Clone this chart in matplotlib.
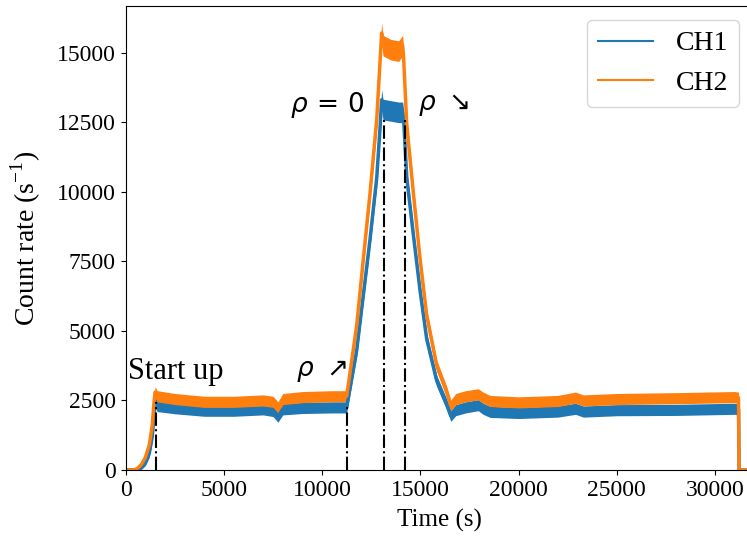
import numpy as np
import matplotlib.pyplot as plt

plt.rcParams['font.family'] = ['Liberation Serif', 'DejaVu Serif']

# tempo (s) e taxas de contagem (centro da banda de ruido)
time = [0, 400, 600, 800, 1000, 1200, 1350, 1450, 1500, 1600, 2500, 4000, 5500,
        7000, 7500, 7750, 8000, 9000, 10500, 11250, 11760, 12100, 12440, 12780,
        12950, 13030, 13100, 13500, 13900, 14100, 14150, 14310, 14645, 14985,
        15325, 15835, 16345, 16550, 16800, 17300, 17950, 18200, 18550, 20000,
        22000, 22900, 23300, 25000, 28000, 31000, 31200, 31230, 31940]
ch1 = [0, 0, 0, 80, 250, 600, 1200, 2000, 2450, 2300, 2220, 2130, 2130,
       2180, 2120, 1920, 2180, 2230, 2250, 2250, 4300, 6300, 8300, 10500,
       12300, 13300, 12950, 12900, 12850, 12850, 12600, 10500, 8450, 6450,
       4700, 3200, 2350, 1950, 2150, 2250, 2330, 2200, 2090, 2050,
       2100, 2200, 2100, 2150, 2160, 2200, 2180, 0, 0]
ch2 = [0, 0, 60, 200, 450, 900, 1600, 2500, 2800, 2650, 2550, 2450, 2450,
       2500, 2450, 2250, 2550, 2620, 2650, 2650, 5200, 7600, 9950, 12600,
       14700, 15700, 15250, 15100, 15050, 15250, 14800, 12400, 9950, 7600,
       5550, 3750, 2800, 2310, 2550, 2650, 2720, 2600, 2480, 2430,
       2480, 2600, 2500, 2550, 2580, 2620, 2600, 0, 0]
# meia largura aproximada da banda de ruido
spread = [0, 0, 20, 50, 90, 130, 170, 200, 200, 200, 200, 200, 200,
          200, 200, 200, 200, 200, 200, 200, 220, 250, 280, 320,
          350, 370, 370, 370, 370, 370, 350, 300, 270, 240,
          220, 200, 200, 200, 200, 200, 200, 200, 200, 200,
          200, 200, 200, 200, 200, 200, 200, 0, 0]

# linhas verticais que marcam as fases
event_t = [1530, 11270, 13140, 14210]
event_top = [2450, 2260, 12700, 12700]

t = np.array(time)
y1 = np.array(ch1)
y2 = np.array(ch2)
s = np.array(spread)

fig = plt.figure(figsize=(7.47, 5.43), dpi=100)
ax = fig.add_axes([0.1683, 0.1344, 0.8398, 0.8545])

ax.fill_between(t, y1 - s, y1 + s, color='tab:blue', lw=0)
ax.plot(t, y1, color='tab:blue', lw=2.5, label='CH1')
ax.fill_between(t, y2 - s, y2 + s, color='tab:orange', lw=0)
ax.plot(t, y2, color='tab:orange', lw=2.5, label='CH2')

ax.vlines(event_t, 0, event_top, colors='black', linestyles='-.', lw=1.5)

ax.text(120, 3550, 'Start up', fontsize=22, va='center')
ax.text(8650, 3550, r'$\rho\ \nearrow$', fontsize=19, va='center')
ax.text(8350, 13100, r'$\rho\,=\,0$', fontsize=19, va='center')
ax.text(14900, 13100, r'$\rho\ \searrow$', fontsize=19, va='center')

ax.set_xlim(0, 31940)
ax.set_ylim(0, 16670)
ax.set_xticks([0, 5000, 10000, 15000, 20000, 25000, 30000])
ax.set_yticks([0, 2500, 5000, 7500, 10000, 12500, 15000])
ax.tick_params(labelsize=17)
ax.set_xlabel('Time (s)', fontsize=18, labelpad=6)
ax.set_ylabel(r'Count rate (s$^{\mathregular{-1}}$)', fontsize=20, labelpad=10)

leg = ax.legend(loc='upper right', fontsize=20)
for line in leg.get_lines():
    line.set_linewidth(1.5)

fig.savefig('out.png', dpi=100)
